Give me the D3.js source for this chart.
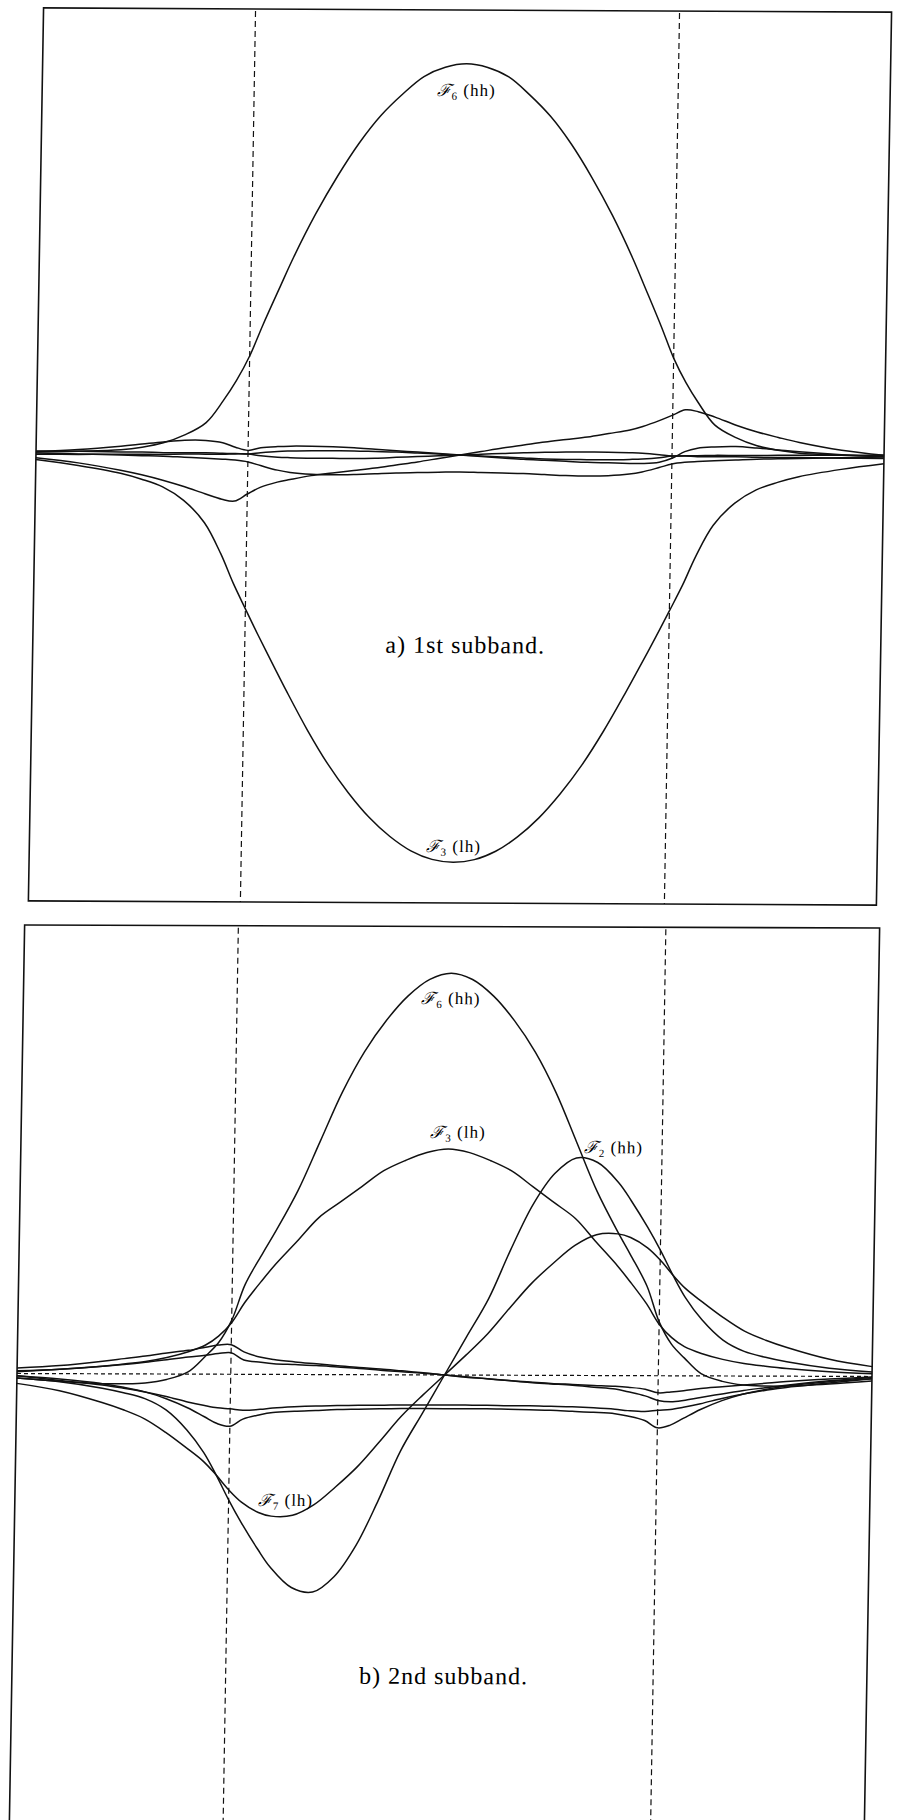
<!DOCTYPE html>
<html>
<head>
<meta charset="utf-8">
<script src="https://cdn.jsdelivr.net/npm/d3@7"></script>
<style>
  html, body { margin: 0; padding: 0; background: #fff; }
  svg { display: block; }
  text { font-family: "Liberation Serif", "DejaVu Serif", serif; fill: #000; }
</style>
</head>
<body>
<svg id="fig" width="898" height="1820"></svg>
<script>
// Position across the structure (well occupies -5..5), shared sample grid
const zGrid = [-10,-9,-8,-7.5,-7,-6.5,-6,-5.6,-5.3,-5,-4.7,-4.3,-4,-3.5,-3,-2.5,-2,-1.5,-1,-0.5,0,
               0.5,1,1.5,2,2.5,3,3.5,4,4.3,4.7,5,5.3,5.6,6,6.5,7,7.5,8,9,10];
const wellEdges = [-5, 5];

// ---- a) 1st subband: envelope components ----
const F6a = [0.002,0.004,0.008,0.014,0.024,0.042,0.07,0.12,0.165,0.22,0.29,0.378,0.443,0.54,0.625,0.7,0.762,0.81,0.85,0.871,0.879,
             0.871,0.85,0.81,0.762,0.7,0.625,0.54,0.443,0.378,0.29,0.22,0.165,0.12,0.07,0.042,0.024,0.014,0.008,0.004,0.002];
const F3a = [-0.015,-0.028,-0.045,-0.058,-0.075,-0.105,-0.155,-0.225,-0.29,-0.348,-0.405,-0.478,-0.532,-0.618,-0.695,-0.76,-0.815,-0.858,-0.89,-0.909,-0.915,
             -0.909,-0.89,-0.858,-0.815,-0.76,-0.695,-0.618,-0.532,-0.478,-0.405,-0.348,-0.29,-0.225,-0.155,-0.105,-0.075,-0.058,-0.045,-0.028,-0.015];
const Aa  = [-0.011,-0.022,-0.038,-0.048,-0.06,-0.074,-0.09,-0.102,-0.106,-0.09,-0.075,-0.063,-0.057,-0.048,-0.042,-0.036,-0.03,-0.023,-0.016,-0.008,0,
             0.008,0.016,0.023,0.03,0.036,0.042,0.05,0.058,0.066,0.08,0.092,0.104,0.1,0.088,0.07,0.055,0.043,0.032,0.015,0.004];
const Ba  = [0,-0.002,-0.004,-0.005,-0.006,-0.008,-0.01,-0.012,-0.014,-0.018,-0.026,-0.036,-0.041,-0.045,-0.046,-0.045,-0.043,-0.041,-0.04,-0.039,-0.038,
             -0.039,-0.04,-0.041,-0.043,-0.045,-0.046,-0.045,-0.041,-0.036,-0.026,-0.018,-0.014,-0.012,-0.01,-0.008,-0.006,-0.005,-0.004,-0.002,0];
const Ca  = [0.003,0.008,0.016,0.021,0.026,0.03,0.03,0.025,0.015,0.008,0.014,0.017,0.018,0.018,0.017,0.015,0.012,0.009,0.006,0.003,0,
             -0.003,-0.006,-0.009,-0.011,-0.013,-0.015,-0.016,-0.017,-0.017,-0.014,-0.005,0.01,0.018,0.021,0.022,0.019,0.015,0.011,0.005,0.001];
const Ea1 = [0.004,0.004,0.003,0.003,0.002,0.002,0.002,0.001,0.001,0,0.003,0.006,0.007,0.008,0.008,0.008,0.007,0.006,0.004,0.002,0,
             0.002,0.004,0.006,0.007,0.008,0.008,0.008,0.007,0.006,0.003,0,0.001,0.001,0.002,0.002,0.002,0.003,0.003,0.004,0.004];
const Ea2 = [-0.003,-0.003,-0.002,-0.002,-0.002,-0.001,-0.001,-0.001,0,0,-0.004,-0.007,-0.008,-0.009,-0.009,-0.009,-0.008,-0.006,-0.004,-0.002,0,
             -0.002,-0.004,-0.006,-0.008,-0.009,-0.009,-0.009,-0.008,-0.007,-0.004,0,0,-0.001,-0.001,-0.001,-0.002,-0.002,-0.002,-0.003,-0.003];

// ---- b) 2nd subband: envelope components ----
const F6b = [-0.01,-0.017,-0.022,-0.022,-0.02,-0.012,0.005,0.04,0.07,0.12,0.2,0.27,0.32,0.41,0.52,0.63,0.72,0.79,0.845,0.882,0.896,
             0.882,0.845,0.79,0.72,0.63,0.52,0.41,0.32,0.27,0.2,0.12,0.07,0.04,0.005,-0.012,-0.02,-0.022,-0.022,-0.017,-0.01];
const F3b = [0.006,0.01,0.017,0.022,0.028,0.037,0.05,0.065,0.085,0.115,0.16,0.21,0.245,0.297,0.35,0.385,0.42,0.455,0.478,0.496,0.504,
             0.496,0.478,0.455,0.42,0.385,0.35,0.297,0.245,0.21,0.16,0.115,0.085,0.065,0.05,0.037,0.028,0.022,0.017,0.01,0.006];
const F2b = [-0.01,-0.018,-0.032,-0.042,-0.055,-0.08,-0.125,-0.175,-0.225,-0.28,-0.33,-0.39,-0.43,-0.475,-0.485,-0.45,-0.38,-0.28,-0.17,-0.085,0,
             0.085,0.17,0.28,0.38,0.45,0.485,0.475,0.43,0.39,0.33,0.28,0.225,0.175,0.125,0.08,0.055,0.042,0.032,0.018,0.01];
const F7b = [-0.022,-0.038,-0.064,-0.08,-0.1,-0.13,-0.165,-0.195,-0.225,-0.258,-0.285,-0.308,-0.316,-0.314,-0.29,-0.25,-0.205,-0.15,-0.093,-0.045,0,
             0.045,0.093,0.15,0.205,0.25,0.29,0.314,0.316,0.308,0.285,0.258,0.225,0.195,0.165,0.13,0.1,0.08,0.064,0.038,0.022];
const U1b = [0.012,0.018,0.028,0.034,0.04,0.047,0.053,0.06,0.065,0.066,0.05,0.038,0.033,0.028,0.024,0.02,0.016,0.013,0.009,0.005,0,
             -0.005,-0.008,-0.012,-0.015,-0.018,-0.02,-0.022,-0.024,-0.026,-0.03,-0.038,-0.036,-0.033,-0.028,-0.024,-0.02,-0.016,-0.012,-0.006,-0.001];
const U2b = [0.004,0.01,0.017,0.021,0.026,0.032,0.038,0.042,0.046,0.048,0.032,0.027,0.024,0.022,0.02,0.017,0.014,0.01,0.007,0.004,0,
             -0.004,-0.008,-0.012,-0.016,-0.019,-0.022,-0.026,-0.03,-0.036,-0.045,-0.055,-0.058,-0.055,-0.048,-0.04,-0.032,-0.026,-0.02,-0.01,-0.002];
const K1b = [-0.005,-0.015,-0.025,-0.032,-0.04,-0.05,-0.062,-0.07,-0.075,-0.077,-0.08,-0.078,-0.075,-0.072,-0.07,-0.069,-0.068,-0.068,-0.067,-0.067,-0.067,
             -0.067,-0.067,-0.068,-0.068,-0.069,-0.07,-0.072,-0.075,-0.078,-0.08,-0.077,-0.075,-0.07,-0.062,-0.05,-0.04,-0.032,-0.025,-0.015,-0.005];
const K2b = [-0.005,-0.012,-0.022,-0.03,-0.04,-0.055,-0.075,-0.095,-0.11,-0.116,-0.1,-0.09,-0.085,-0.082,-0.08,-0.078,-0.077,-0.076,-0.075,-0.075,-0.075,
             -0.075,-0.075,-0.076,-0.077,-0.078,-0.08,-0.082,-0.085,-0.09,-0.1,-0.116,-0.11,-0.095,-0.075,-0.055,-0.04,-0.03,-0.022,-0.012,-0.005];

// Curve labels: script-F index, band, anchor position (z, value)
const labelSubA  = ["6", "3"];
const labelBandA = ["hh", "lh"];
const labelZA    = [0, 0];
const labelVA    = [0.807, -0.892];

const labelSubB  = ["6", "3", "2", "7"];
const labelBandB = ["hh", "lh", "hh", "lh"];
const labelZB    = [0, 0.22, 3.86, -3.67];
const labelVB    = [0.827, 0.529, 0.496, -0.293];

const captions   = ["a)  1st subband.", "b)  2nd subband."];
const captionZ   = [0.2, 0.1];
const captionV   = [-0.445, -0.689];

// ---- drawing ----
const svg = d3.select("#fig");
svg.append("rect").attr("width", 898).attr("height", 1820).attr("fill", "#fff");

const ink = "#111";

function drawPanel(opt) {
  const x = d3.scaleLinear().domain([-10, 10]).range(opt.xRange);
  const y = d3.scaleLinear().domain([-1, 1]).range(opt.yRange);
  const [px, py] = [x(0), y(0)];
  // slight shear of the printed page
  const g = svg.append("g")
    .attr("transform", `translate(${px},${py}) matrix(1,${opt.tilt},${opt.lean},1,0,0) translate(${-px},${-py})`);

  // frame
  g.append("rect")
    .attr("x", x(-10)).attr("y", opt.boxTop)
    .attr("width", x(10) - x(-10)).attr("height", opt.boxBottom - opt.boxTop)
    .attr("fill", "none").attr("stroke", ink).attr("stroke-width", 1.6);

  // well boundaries
  g.selectAll("line.edge").data(wellEdges).join("line")
    .attr("class", "edge")
    .attr("x1", d => x(d)).attr("x2", d => x(d))
    .attr("y1", opt.boxTop + 2).attr("y2", opt.boxBottom)
    .attr("stroke", ink).attr("stroke-width", 1.2)
    .attr("stroke-dasharray", "6,4");

  if (opt.zeroLine) {
    g.append("line")
      .attr("x1", x(-10)).attr("x2", x(10))
      .attr("y1", y(0)).attr("y2", y(0))
      .attr("stroke", ink).attr("stroke-width", 1.2)
      .attr("stroke-dasharray", "4,3");
  }

  const line = d3.line()
    .x((d, i) => x(zGrid[i]))
    .y(d => y(d))
    .curve(d3.curveCatmullRom.alpha(0.5));

  g.selectAll("path.comp").data(opt.series).join("path")
    .attr("class", "comp")
    .attr("d", d => line(d))
    .attr("fill", "none")
    .attr("stroke", ink)
    .attr("stroke-width", 1.5)
    .attr("stroke-linejoin", "round");

  // curve labels
  opt.labels.sub.forEach((s, i) => {
    const t = g.append("text")
      .attr("x", x(opt.labels.z[i])).attr("y", y(opt.labels.v[i]))
      .attr("text-anchor", "middle")
      .attr("font-size", 17)
      .attr("letter-spacing", 1);
    t.append("tspan").attr("font-style", "italic").text("\u2131");
    t.append("tspan").attr("font-size", 11).attr("dy", 4).text(s);
    t.append("tspan").attr("dy", -4).text(" (" + opt.labels.band[i] + ")");
  });

  g.append("text")
    .attr("x", x(opt.captionZ)).attr("y", y(opt.captionV))
    .attr("text-anchor", "middle")
    .attr("font-size", 24)
    .attr("letter-spacing", 1)
    .text(opt.caption);
}

drawPanel({
  xRange: [36, 884], yRange: [900, 10],
  boxTop: 10, boxBottom: 903,
  lean: -0.017, tilt: 0.005,
  zeroLine: false,
  series: [F6a, F3a, Aa, Ba, Ca, Ea1, Ea2],
  labels: { sub: labelSubA, band: labelBandA, z: labelZA, v: labelVA },
  caption: captions[0], captionZ: captionZ[0], captionV: captionV[0]
});

drawPanel({
  xRange: [17, 872], yRange: [1823.5, 926.5],
  boxTop: 926.5, boxBottom: 1823.5,
  lean: -0.017, tilt: 0.0035,
  zeroLine: true,
  series: [F6b, F3b, F2b, F7b, U1b, U2b, K1b, K2b],
  labels: { sub: labelSubB, band: labelBandB, z: labelZB, v: labelVB },
  caption: captions[1], captionZ: captionZ[1], captionV: captionV[1]
});
</script>
</body>
</html>
